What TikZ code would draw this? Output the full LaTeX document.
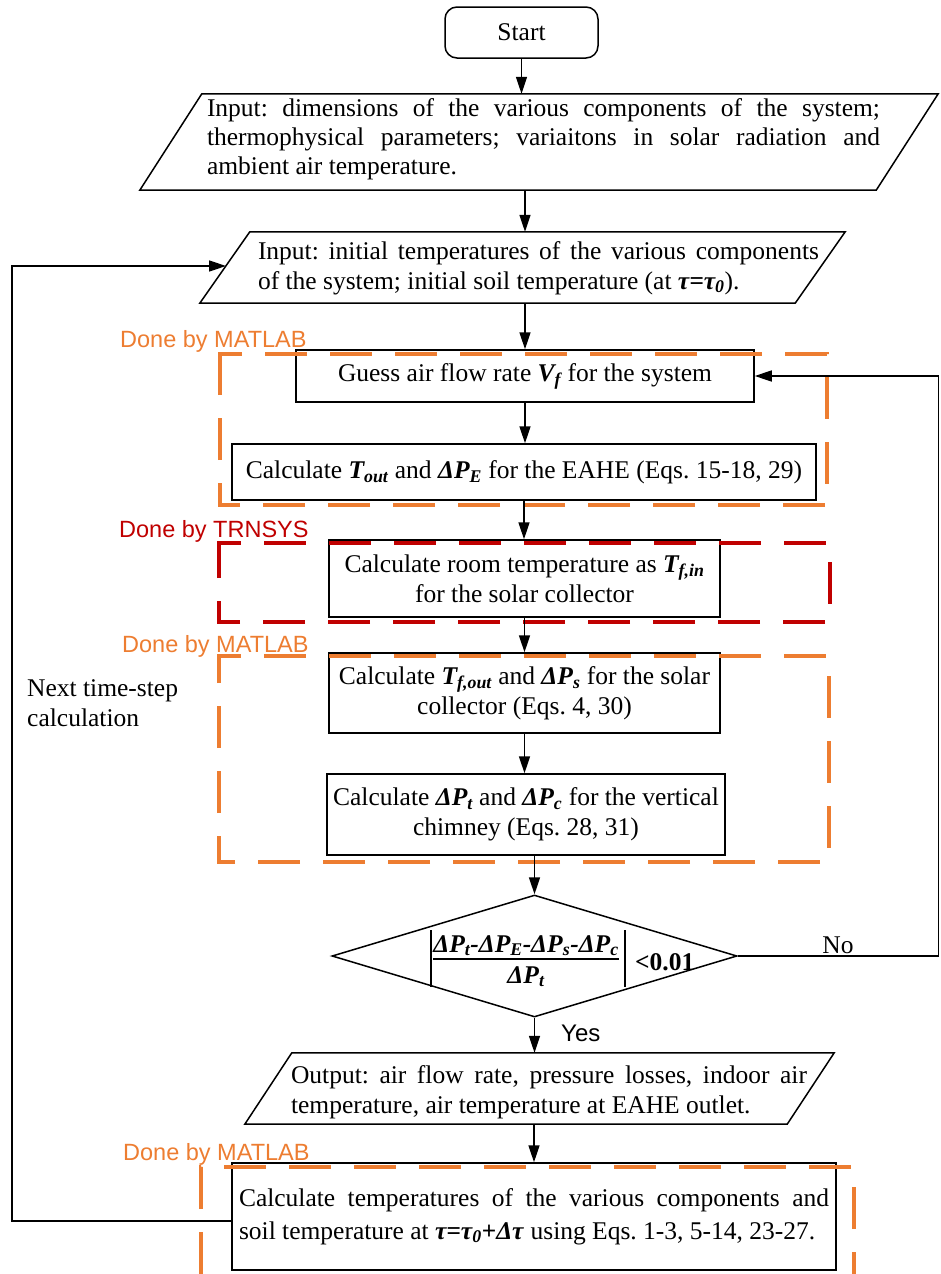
\documentclass[tikz,border=0pt]{standalone}
\usepackage{fontspec}
\setmainfont{Liberation Serif}
\newfontfamily\labelsans{Liberation Sans}
\usetikzlibrary{arrows.meta,calc,shapes.geometric}
\definecolor{dborange}{RGB}{237,125,49}
\definecolor{dbred}{RGB}{192,0,0}
\newcommand{\myb}[1]{\textbf{\textit{#1}}}
\newcommand{\mysub}[1]{\textsubscript{#1}}
\frenchspacing
\begin{document}
\frenchspacing
\begin{tikzpicture}[x=1pt,y=-1pt,
  txt/.style={font=\fontsize{25.5}{30}\selectfont},
  box/.style={txt, draw, line width=1.5pt, inner sep=2pt, align=center},
  slab/.style={inner sep=0pt},
  arr/.style={line width=1.6pt, -{Triangle[length=17pt,width=11pt]}},
  matbox/.style={draw=dborange, line width=4.5pt, dash pattern=on 42pt off 23pt},
  trnbox/.style={draw=dbred, line width=4.5pt, dash pattern=on 42pt off 23pt},
  lbl/.style={font=\labelsans\fontsize{23.5}{28}\selectfont, anchor=base west, inner sep=0pt},
  edge/.style={line width=1.5pt}
]
\useasboundingbox (0,0) rectangle (940,1274);

% Start
\node[box, rounded corners=12pt, minimum width=153pt, minimum height=51pt] (start) at (521.5,32.5) {Start};

% Input 1
\node[slab, minimum width=798pt, minimum height=96pt] (p1) at (539,142) {};
\draw[edge] (p1.south west) -- ($(p1.north west)+(62,0)$) -- (p1.north east) -- ($(p1.south east)+(-62,0)$) -- cycle;
\node[inner sep=0pt, text width=673pt, align=justify, font=\fontsize{25.5}{29}\selectfont] (p1t) at (543.5,139)
  {Input: dimensions of the various components of the system;\linebreak thermophysical parameters; variaitons in solar radiation and\linebreak ambient air temperature.};

% Input 2
\node[slab, minimum width=645pt, minimum height=71pt] (p2) at (522.5,267.5) {};
\draw[edge] (p2.south west) -- ($(p2.north west)+(50,0)$) -- (p2.north east) -- ($(p2.south east)+(-50,0)$) -- cycle;
\node[txt, inner sep=0pt, text width=561pt, align=justify] (p2t) at (538.5,268)
  {Input: initial temperatures of the various components\linebreak of the system; initial soil temperature (at \myb{τ=τ\mysub{0}}).};

% process boxes
\node[box, minimum width=458pt, minimum height=52pt] (guess) at (525,376) {Guess air flow rate \myb{V\mysub{f}} for the system};
\node[box, minimum width=584pt, minimum height=56pt] (eahe) at (524,472) {Calculate \myb{T\mysub{out}} and \myb{ΔP\mysub{E}} for the EAHE (Eqs. 15-18, 29)};
\node[box, minimum width=391pt, minimum height=77pt] (room) at (524.5,578.5) {Calculate room temperature as \myb{T\mysub{f,in}}\\for the solar collector};
\node[box, minimum width=391pt, minimum height=80pt] (solar) at (524.5,693) {Calculate \myb{T\mysub{f,out}} and \myb{ΔP\mysub{s}} for the solar\\collector (Eqs. 4, 30)};
\node[box, minimum width=398pt, minimum height=81pt] (chimney) at (526,814.5) {Calculate \myb{ΔP\mysub{t}} and \myb{ΔP\mysub{c}} for the vertical\\chimney (Eqs. 28, 31)};

% decision
\node[diamond, draw, line width=1.5pt, minimum width=405pt, minimum height=122pt, inner sep=0pt] (dia) at (534.5,956) {};
\node[txt, inner sep=0pt, anchor=base] (num) at (526,952) {\myb{ΔP\mysub{t}-ΔP\mysub{E}-ΔP\mysub{s}-ΔP\mysub{c}}};
\node[txt, inner sep=0pt, anchor=base] (den) at (526,983) {\myb{ΔP\mysub{t}}};
\node[txt, inner sep=0pt, anchor=base west] (lim) at (635,970) {\textbf{<0.01}};
\draw[line width=1.3pt] (433,959) -- (619,959);
\draw[line width=1.2pt] (431,930) -- (431,987);
\draw[line width=1.2pt] (625,930) -- (625,987);

% output
\node[slab, minimum width=589pt, minimum height=71pt] (outp) at (539.5,1088.5) {};
\draw[edge] (outp.south west) -- ($(outp.north west)+(47,0)$) -- (outp.north east) -- ($(outp.south east)+(-47,0)$) -- cycle;
\node[txt, inner sep=0pt, text width=516pt, align=justify] (outt) at (549,1092)
  {Output: air flow rate, pressure losses, indoor air\linebreak temperature, air temperature at EAHE outlet.};

% final
\node[box, text width=590pt, align=justify, inner xsep=7pt, inner ysep=2pt, minimum height=107pt, font=\fontsize{25.5}{33}\selectfont] (final) at (534,1216.5)
  {Calculate temperatures of the various components and\linebreak soil temperature at \myb{τ=τ\mysub{0}+Δτ} using Eqs. 1-3, 5-14, 23-27.};

% dashed regions
\draw[matbox] (220,374) -- (220,354) -- (827,354) -- (827,505) -- (220,505) -- cycle;
\draw[trnbox] (219,563) -- (219,543) -- (830,543) -- (830,622) -- (219,622) -- cycle;
\draw[matbox] (219,676) -- (219,656) -- (829,656) -- (829,862) -- (219,862) -- cycle;
\draw[matbox] (201,1274) -- (201,1167) -- (854,1167) -- (854,1274);

% labels
\node[lbl, text=dborange] (lab1) at (120,347) {Done by MATLAB};
\node[lbl, text=dbred] (lab2) at (119,537) {Done by TRNSYS};
\node[lbl, text=dborange] (lab3) at (122,652) {Done by MATLAB};
\node[lbl, text=dborange] (lab4) at (123,1160) {Done by MATLAB};
\node[txt, anchor=west, align=left, inner sep=0pt] (next) at (27,703) {Next time-step\\calculation};
\node[txt, anchor=base, inner sep=0pt] (no) at (838,953) {No};
\node[lbl, anchor=west, font=\labelsans\fontsize{24}{28}\selectfont] (yes) at (561,1033) {Yes};

% connectors
\draw[arr] (start.south) -- (start.south |- p1.north);
\draw[arr] (guess |- p1.south) -- (guess |- p2.north);
\draw[arr] (guess |- p2.south) -- (guess.north);
\draw[arr] (guess.south) -- (guess.south |- eahe.north);
\draw[arr] (eahe.south) -- (eahe.south |- room.north);
\draw[arr] (room.south) -- (room.south |- solar.north);
\draw[arr] (solar.south) -- (solar.south |- chimney.north);
\draw[arr] (dia.north |- chimney.south) -- (dia.north);
\draw[arr] (dia.south) -- (dia.south |- outp.north);
\draw[arr] (final.north |- outp.south) -- (final.north);
\coordinate (nR) at (938.5,956);
\draw[arr] (dia.east) -- (nR) |- (guess.east);
\coordinate (p2in) at (226,266);
\coordinate (lL) at (12,1221);
\draw[arr] ($(final.west)+(0,4.5)$) -- (lL) |- (p2in);
\end{tikzpicture}
\end{document}
